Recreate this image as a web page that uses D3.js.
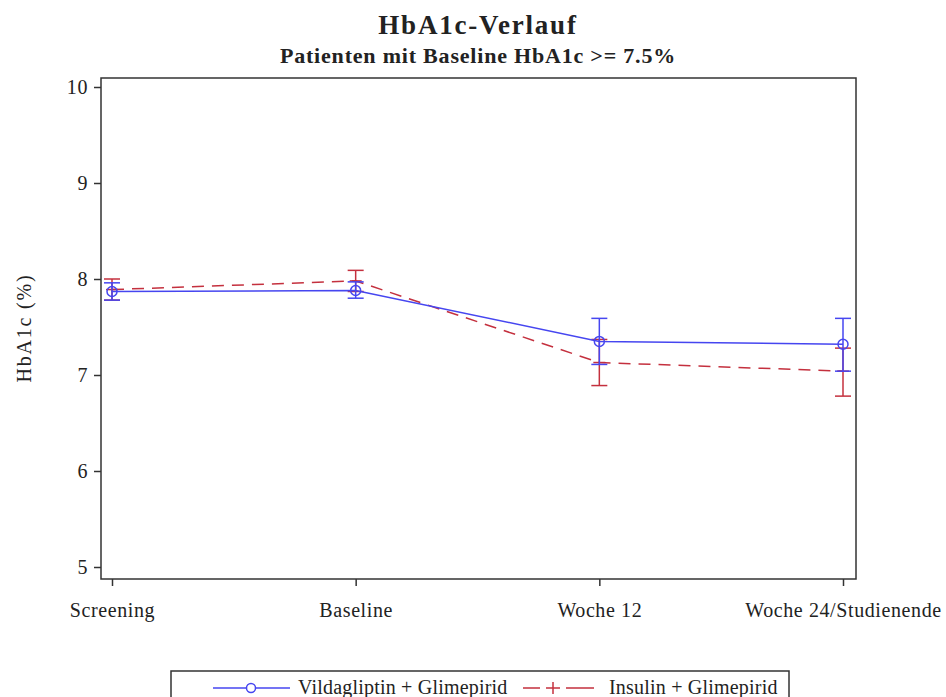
<!DOCTYPE html>
<html>
<head>
    <style>
        body {
            margin: 0;
            background: #fff;
            font-family: "Liberation Serif", "DejaVu Serif", serif;
        }
    </style>
</head>
<body>
    <svg id="chart" width="946" height="697"></svg>
    <script src="https://cdnjs.cloudflare.com/ajax/libs/d3/7.8.5/d3.min.js"></script>
    <script>
        // visits on the x axis
        const visits = ["Screening", "Baseline", "Woche 12", "Woche 24/Studienende"];

        // Vildagliptin + Glimepirid: mean, lower, upper
        const vildaMean = [7.87, 7.88, 7.35, 7.32];
        const vildaLow = [7.78, 7.80, 7.11, 7.04];
        const vildaHigh = [7.96, 7.97, 7.59, 7.59];

        // Insulin + Glimepirid: mean, lower, upper
        const insulinMean = [7.89, 7.98, 7.13, 7.04];
        const insulinLow = [7.78, 7.87, 6.89, 6.78];
        const insulinHigh = [8.00, 8.09, 7.37, 7.28];

        const yTicks = [5, 6, 7, 8, 9, 10];

        const svg = d3.select("#chart");
        const frame = { left: 101, right: 856, top: 78, bottom: 579 };

        const x = d3.scalePoint()
            .domain(visits)
            .range([112, 843]);

        const y = d3.scaleLinear()
            .domain([5, 10])
            .range([567, 87]);

        const blue = "#4646f0";
        const red = "#c4303e";
        const ink = "#222";

        // title
        svg.append("text")
            .attr("x", 478).attr("y", 34)
            .attr("text-anchor", "middle")
            .style("font-size", "27px").style("font-weight", "bold")
            .style("letter-spacing", "1.8px")
            .attr("fill", ink)
            .text("HbA1c-Verlauf");
        svg.append("text")
            .attr("x", 478).attr("y", 63)
            .attr("text-anchor", "middle")
            .style("font-size", "22px").style("font-weight", "bold")
            .style("letter-spacing", "0.8px")
            .attr("fill", ink)
            .text("Patienten mit Baseline HbA1c >= 7.5%");

        // frame
        svg.append("rect")
            .attr("x", frame.left).attr("y", frame.top)
            .attr("width", frame.right - frame.left)
            .attr("height", frame.bottom - frame.top)
            .attr("fill", "none")
            .attr("stroke", "#333")
            .attr("stroke-width", 1.5);

        // axes
        const yAxis = svg.append("g")
            .attr("transform", `translate(${frame.left},0)`)
            .call(d3.axisLeft(y).tickValues(yTicks).tickFormat(d3.format("d")).tickSize(7).tickPadding(6));
        const xAxis = svg.append("g")
            .attr("transform", `translate(0,${frame.bottom})`)
            .call(d3.axisBottom(x).tickSize(7).tickPadding(17));
        [yAxis, xAxis].forEach(g => {
            g.select(".domain").remove();
            g.selectAll("line").attr("stroke", "#333").attr("stroke-width", 1.5);
            g.selectAll("text")
                .style("font-family", "'Liberation Serif', serif")
                .style("font-size", "20px")
                .style("letter-spacing", "0.6px")
                .attr("fill", ink);
        });

        svg.append("text")
            .attr("transform", "translate(31,328) rotate(-90)")
            .attr("text-anchor", "middle")
            .style("font-size", "20px")
            .style("letter-spacing", "1.8px")
            .attr("fill", ink)
            .text("HbA1c (%)");

        const line = d3.line()
            .x(d => x(d.visit))
            .y(d => y(d.mean));

        function series(mean, low, high) {
            return visits.map((v, i) => ({ visit: v, mean: mean[i], low: low[i], high: high[i] }));
        }

        function drawSeries(data, color, dash, marker) {
            const g = svg.append("g");
            g.append("path")
                .datum(data)
                .attr("d", line)
                .attr("fill", "none")
                .attr("stroke", color)
                .attr("stroke-width", 1.5)
                .attr("stroke-dasharray", dash);

            const bars = g.selectAll("g.err").data(data).enter().append("g")
                .attr("stroke", color).attr("stroke-width", 1.5);
            bars.append("line")
                .attr("x1", d => x(d.visit)).attr("x2", d => x(d.visit))
                .attr("y1", d => y(d.low)).attr("y2", d => y(d.high));
            bars.append("line")
                .attr("x1", d => x(d.visit) - 8).attr("x2", d => x(d.visit) + 8)
                .attr("y1", d => y(d.low)).attr("y2", d => y(d.low));
            bars.append("line")
                .attr("x1", d => x(d.visit) - 8).attr("x2", d => x(d.visit) + 8)
                .attr("y1", d => y(d.high)).attr("y2", d => y(d.high));

            if (marker === "circle") {
                bars.append("circle")
                    .attr("cx", d => x(d.visit)).attr("cy", d => y(d.mean))
                    .attr("r", 5).attr("fill", "none");
            } else {
                bars.append("line")
                    .attr("x1", d => x(d.visit) - 6).attr("x2", d => x(d.visit) + 6)
                    .attr("y1", d => y(d.mean)).attr("y2", d => y(d.mean));
            }
        }

        drawSeries(series(insulinMean, insulinLow, insulinHigh), red, "12,8", "plus");
        drawSeries(series(vildaMean, vildaLow, vildaHigh), blue, null, "circle");

        // legend
        const leg = svg.append("g");
        leg.append("rect")
            .attr("x", 171).attr("y", 671)
            .attr("width", 618).attr("height", 40)
            .attr("fill", "none").attr("stroke", "#333").attr("stroke-width", 1.5);

        const ly = 688;
        leg.append("line").attr("x1", 213).attr("x2", 290).attr("y1", ly).attr("y2", ly)
            .attr("stroke", blue).attr("stroke-width", 1.5);
        leg.append("circle").attr("cx", 251).attr("cy", ly).attr("r", 4.5)
            .attr("fill", "#fff").attr("stroke", blue).attr("stroke-width", 1.5);
        leg.append("text").attr("x", 298).attr("y", ly + 6)
            .style("font-size", "20px").style("letter-spacing", "0.2px").attr("fill", ink)
            .text("Vildagliptin + Glimepirid");

        leg.append("line").attr("x1", 523).attr("x2", 594).attr("y1", ly).attr("y2", ly)
            .attr("stroke", red).attr("stroke-width", 1.5).attr("stroke-dasharray", "17,26,28");
        leg.append("line").attr("x1", 553).attr("x2", 553).attr("y1", ly - 6).attr("y2", ly + 6)
            .attr("stroke", red).attr("stroke-width", 1.5);
        leg.append("line").attr("x1", 546).attr("x2", 560).attr("y1", ly).attr("y2", ly)
            .attr("stroke", red).attr("stroke-width", 1.5);
        leg.append("text").attr("x", 609).attr("y", ly + 6)
            .style("font-size", "20px").style("letter-spacing", "0.2px").attr("fill", ink)
            .text("Insulin + Glimepirid");
    </script>
</body>
</html>
